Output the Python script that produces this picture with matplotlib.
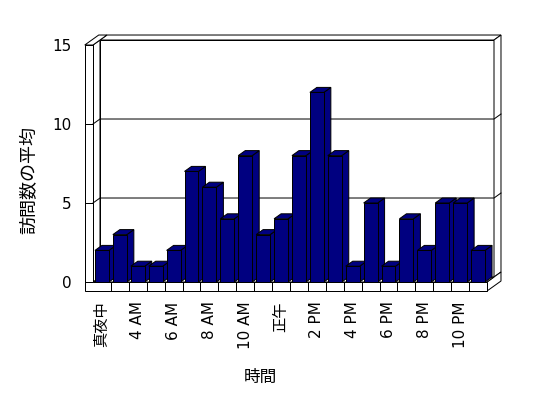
import matplotlib.pyplot as plt
from matplotlib.patches import Polygon

plt.rcParams['font.family'] = ['DejaVu Sans', 'Noto Sans CJK JP']

# data
hours = ['真夜中', '1 AM', '4 AM', '5 AM', '6 AM', '7 AM', '8 AM', '9 AM', '10 AM', '11 AM',
         '正午', '1 PM', '2 PM', '3 PM', '4 PM', '5 PM', '6 PM', '7 PM', '8 PM', '9 PM',
         '10 PM', '11 PM']
visits = [2, 3, 1, 1, 2, 7, 6, 4, 8, 3, 4, 8, 12, 8, 1, 5, 1, 4, 2, 5, 5, 2]
yticks = [0, 5, 10, 15]
xlabel = '時間'
ylabel = '訪問数の平均'

# 3d look (in data units)
YMAX = 15
X0, X1 = -0.5, len(visits) - 0.5
WALL = 0.46      # left wall thickness
FLOOR = 0.57     # floor thickness
DX, DY = 0.39, 0.316   # depth offset
BAR_W = 0.78
NAVY = '#000080'
LW = 0.72

PX_CAT, PX_VAL = 17.91, 15.8
W, H = 548, 398

fig = plt.figure(figsize=(W / 100, H / 100), dpi=100)
left_px = 93 - WALL * PX_CAT
bot_px = 282 + FLOOR * PX_VAL
ax_w = (X1 - X0 + WALL) * PX_CAT
ax_h = (YMAX + FLOOR) * PX_VAL
ax = fig.add_axes([left_px / W, (H - bot_px) / H, ax_w / W, ax_h / H])
ax.set_xlim(X0 - WALL, X1)
ax.set_ylim(-FLOOR, YMAX)
ax.patch.set_visible(False)
for s in ax.spines.values():
    s.set_visible(False)
ax.set_axisbelow(False)


def face(pts, fc='white', z=1.0):
    ax.add_patch(Polygon(pts, closed=True, facecolor=fc, edgecolor='black',
                         linewidth=LW, clip_on=False, zorder=z, joinstyle='miter'))


# back wall slab
face([(X0 + DX, DY), (X1 + DX, DY), (X1 + DX, YMAX + DY), (X0 + DX, YMAX + DY)])
face([(X0 + DX, YMAX + DY), (X1 + DX, YMAX + DY), (X1 + 2 * DX, YMAX + 2 * DY), (X0 + 2 * DX, YMAX + 2 * DY)])
face([(X1 + DX, DY), (X1 + 2 * DX, 2 * DY), (X1 + 2 * DX, YMAX + 2 * DY), (X1 + DX, YMAX + DY)])
# floor
face([(X1, -FLOOR), (X1 + 2 * DX, -FLOOR + 2 * DY), (X1 + 2 * DX, 2 * DY), (X1, 0)])
face([(X0, 0), (X1, 0), (X1 + DX, DY), (X0 + DX, DY)])
# left wall
face([(X0, 0), (X0 + DX, DY), (X0 + DX, YMAX + DY), (X0, YMAX)])
face([(X0 - WALL, YMAX), (X0, YMAX), (X0 + 2 * DX, YMAX + 2 * DY), (X0 - WALL + 2 * DX, YMAX + 2 * DY)])
face([(X0 - WALL, -FLOOR), (X1, -FLOOR), (X1, 0), (X0, 0), (X0, YMAX), (X0 - WALL, YMAX)])

# gridlines on walls
for v in yticks[1:-1]:
    ax.plot([X0, X0 + DX, X1 + DX, X1 + 2 * DX], [v, v + DY, v + DY, v + 2 * DY],
            color='black', lw=LW, clip_on=False, zorder=1.2)

# bars, drawn left to right
xs = list(range(len(visits)))
bars = ax.bar(xs, visits, width=BAR_W, color=NAVY, edgecolor='black', linewidth=LW)
for i, v in enumerate(visits):
    l, r = i - BAR_W / 2, i + BAR_W / 2
    z = 3 + i * 0.01
    face([(r, 0), (r + DX, DY), (r + DX, v + DY), (r, v)], NAVY, z)
    face([(l, v), (r, v), (r + DX, v + DY), (l + DX, v + DY)], NAVY, z + 0.001)
    bars[i].set_zorder(z + 0.002)
    bars[i].set_clip_on(False)

# ticks
ax.set_yticks(yticks)
ax.tick_params(axis='y', direction='in', length=6, width=LW, pad=9.5, labelsize=11)
ax.set_xticks(xs[::2], hours[::2], rotation=90)
ax.set_xticks([i + 0.5 for i in xs[:-1]], minor=True)
ax.tick_params(axis='x', which='major', length=0, pad=7.5, labelsize=11)
ax.tick_params(axis='x', which='minor', direction='in', length=6.5, width=LW)

ax.set_xlabel(xlabel, fontsize=12)
ax.xaxis.set_label_coords((260 - left_px) / ax_w, (bot_px - 377) / ax_h)
ax.xaxis.label.set_va('center')
ax.set_ylabel(ylabel, fontsize=13)
ax.yaxis.set_label_coords((29 - left_px) / ax_w, (bot_px - 180) / ax_h)
ax.yaxis.label.set_va('center')

plt.savefig('out.png', dpi=100)
